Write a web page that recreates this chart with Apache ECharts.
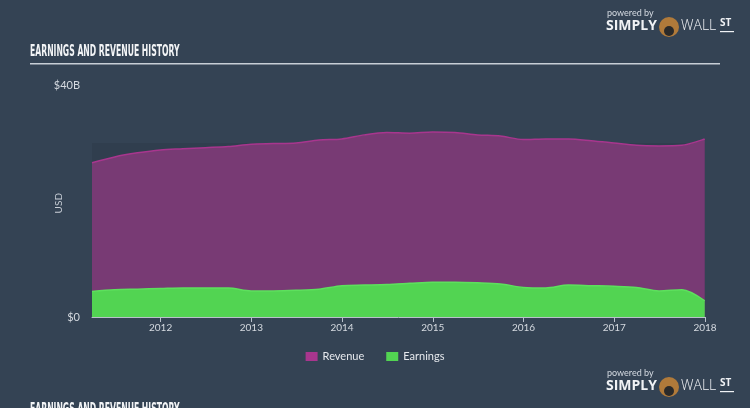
<!DOCTYPE html>
<html>
<head>
<meta charset="utf-8">
<script src="https://cdn.jsdelivr.net/npm/echarts@6/dist/echarts.min.js"></script>
<style>
html,body{margin:0;padding:0;background:#344354;}
#c{width:750px;height:408px;}
</style>
</head>
<body>
<div id="c"></div>
<script>
var quarters = ['2011-03-31','2011-06-30','2011-09-30','2011-12-31','2012-03-31','2012-06-30','2012-09-30','2012-12-31','2013-03-31','2013-06-30','2013-09-30','2013-12-31','2014-03-31','2014-06-30','2014-09-30','2014-12-31','2015-03-31','2015-06-30','2015-09-30','2015-12-31','2016-03-31','2016-06-30','2016-09-30','2016-12-31','2017-03-31','2017-06-30','2017-09-30','2017-12-31'];
var revenue = [26.6,27.6,28.3,28.8,29.0,29.2,29.4,29.8,29.9,30.0,30.5,30.7,31.4,31.8,31.7,31.9,31.8,31.4,31.2,30.6,30.7,30.7,30.4,30.0,29.6,29.5,29.6,30.7];
var earnings = [4.4,4.7,4.8,4.9,5.0,5.0,5.0,4.5,4.5,4.6,4.8,5.4,5.5,5.6,5.8,6.0,6.0,5.9,5.7,5.1,5.0,5.5,5.4,5.3,5.1,4.5,4.7,2.8];
var yearTicks = [2012,2013,2014,2015,2016,2017,2018];
var yTicks = [0,40];

function toYear(s){
  var d = new Date(s+'T00:00:00Z');
  var y = d.getUTCFullYear();
  var start = Date.UTC(y,0,1), end = Date.UTC(y+1,0,1);
  return y + (d.getTime()-start)/(end-start);
}
var xs = quarters.map(toYear);
var revData = xs.map(function(x,i){return [x,revenue[i]];});
var earnData = xs.map(function(x,i){return [x,earnings[i]];});

function logo(yOff){
  return [
    {type:'text',left:607,top:9+yOff,style:{text:'powered by',fill:'#d5dbe2',font:'9px Lato, sans-serif'}},
    {type:'text',left:606,top:19+yOff,style:{text:'SIMPLY',fill:'#f0f2f5',font:'bold 14px "Open Sans", sans-serif'}},
    {type:'circle',shape:{cx:669,cy:27+yOff,r:10},style:{fill:'#b07a3a'}},
    {type:'circle',shape:{cx:669,cy:31+yOff,r:5},style:{fill:'#2a2a2a'}},
    {type:'text',left:681,top:19+yOff,style:{text:'WALL',fill:'#f0f2f5',font:'300 14px "Open Sans", sans-serif'}},
    {type:'text',left:720,top:18+yOff,style:{text:'ST',fill:'#f0f2f5',font:'bold 10px "Open Sans", sans-serif'}},
    {type:'rect',shape:{x:720,y:31+yOff,width:14,height:1.2},style:{fill:'#f0f2f5'}}
  ];
}

var titleFont = 'bold 15px "DejaVu Sans Condensed", "DejaVu Sans", sans-serif';

var chart = echarts.init(document.getElementById('c'));
chart.setOption({
  backgroundColor:'#344354',
  animation:false,
  graphic:[].concat(
    [{type:'text',x:30,y:45,scaleX:0.57,style:{text:'EARNINGS AND REVENUE HISTORY',fill:'#f2f4f6',font:titleFont}},
     {type:'rect',shape:{x:30,y:63,width:690,height:1.5},style:{fill:'#c7ced6'}},
     {type:'text',x:30,y:403,scaleX:0.57,style:{text:'EARNINGS AND REVENUE HISTORY',fill:'#f2f4f6',font:titleFont}},
     {type:'text',left:54,top:193,rotation:Math.PI/2,style:{text:'USD',fill:'#c8ced6',font:'10px Lato, sans-serif'}}],
    logo(0), logo(360)
  ),
  legend:{
    bottom:41,left:'center',
    itemWidth:12,itemHeight:9,itemGap:22,
    textStyle:{color:'#e6e9ed',fontSize:11,fontFamily:'Lato, sans-serif'},
    data:[{name:'Revenue',icon:'rect',itemStyle:{color:'#a8368e'}},{name:'Earnings',icon:'rect',itemStyle:{color:'#52d452'}}]
  },
  grid:{left:92,right:45,top:85,bottom:91},
  xAxis:{
    type:'value',min:xs[0],max:yearTicks[yearTicks.length-1],
    splitLine:{show:false},
    axisLine:{lineStyle:{color:'#b9c1cb',width:1}},
    axisTick:{show:true,length:5,lineStyle:{color:'#b9c1cb'},customValues:yearTicks},
    axisLabel:{color:'#d5dae0',fontSize:10,fontFamily:'Lato, sans-serif',margin:6,customValues:yearTicks,formatter:function(v){return String(Math.round(v));}}
  },
  yAxis:{
    type:'value',min:0,max:40,interval:40,
    splitLine:{show:false},
    axisLine:{show:false},axisTick:{show:false},
    axisLabel:{color:'#d5dae0',fontSize:11,fontFamily:'Lato, sans-serif',margin:12,formatter:function(v){return v===0?'$0':'$'+v+'B';}}
  },
  series:[
    {name:'Revenue',type:'line',data:revData,smooth:0.3,symbol:'none',
     lineStyle:{color:'#a8368e',width:1.5},
     areaStyle:{color:'#783a74',opacity:1},
     markArea:{silent:true,itemStyle:{color:'rgba(0,0,0,0.07)'},data:[[{yAxis:0},{yAxis:30}]]},
     z:2},
    {name:'Earnings',type:'line',data:earnData,smooth:0.3,symbol:'none',
     lineStyle:{color:'#5de05d',width:1.5},
     areaStyle:{color:'#52d452',opacity:1},
     z:3}
  ]
});
</script>
</body>
</html>
